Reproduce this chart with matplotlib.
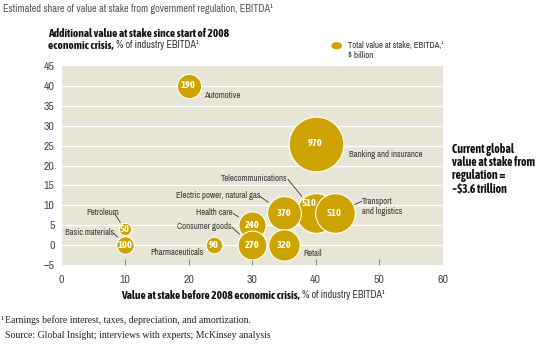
import matplotlib
matplotlib.use("Agg")
import matplotlib.pyplot as plt
import numpy as np

industries = ["Automotive", "Banking and insurance", "Telecommunications",
              "Transport\nand logistics", "Electric power, natural gas",
              "Health care", "Consumer goods", "Retail", "Pharmaceuticals",
              "Petroleum", "Basic materials"]
before_crisis = [20, 40, 40, 43, 35, 30, 30, 35, 24, 10, 10]
additional = [40, 25.5, 8, 8, 8, 5, 0, 0, 0, 4, 0]
total_value = [190, 970, 510, 510, 370, 240, 270, 320, 90, 50, 100]
x_ticks = [0, 10, 20, 30, 40, 50, 60]
y_ticks = [-5, 0, 5, 10, 15, 20, 25, 30, 35, 40, 45]

GOLD = "#CCA300"
BG = "#E7E5D5"
GREY = "#4a4a4a"
SANS = ["Archivo Narrow", "Liberation Sans", "DejaVu Sans"]
BOLD = ["Asap Condensed", "Barlow Condensed", "Liberation Sans", "DejaVu Sans"]
SERIF = ["Liberation Serif", "DejaVu Serif"]

plt.rcParams["font.family"] = SANS

W, H = 545, 344
fig = plt.figure(figsize=(W / 100, H / 100), dpi=100)
ax = fig.add_axes([61.5 / W, 1 - 265 / H, 381 / W, 199 / H])
ax.set_facecolor(BG)
ax.set_xlim(0, 60)
ax.set_ylim(-5, 45)
for s in ax.spines.values():
    s.set_visible(False)
ax.set_yticks(y_ticks)
ax.set_yticklabels([str(v).replace("-", "\u2212") for v in y_ticks])
ax.set_xticks(x_ticks)
ax.tick_params(axis="y", length=0, pad=5, labelsize=8.5, labelcolor=GREY)
ax.tick_params(axis="x", direction="in", length=4, width=0.8, color="#888888",
               pad=7, labelsize=8.5, labelcolor=GREY)
xt = ax.xaxis.get_major_ticks()
xt[0].tick1line.set_visible(False)
xt[-1].tick1line.set_visible(False)
for yv in y_ticks[1:-1]:
    ax.axhline(yv, color="white", lw=0.9, zorder=1)

K = 1.6  # marker area scale (points^2 per $ billion)
for i, (xv, yv, v) in enumerate(zip(before_crisis, additional, total_value)):
    ax.scatter([xv], [yv], s=K * v, color=GOLD, edgecolor="white", linewidth=0.8,
               zorder=3 + i, clip_on=False)

# value labels inside bubbles (offsets in points)
val_off = {2: (-4.5, 7)}
for i, (xv, yv, v) in enumerate(zip(before_crisis, additional, total_value)):
    dx, dy = val_off.get(i, (0, 0))
    ax.annotate(str(v), (xv, yv), xytext=(dx, dy), textcoords="offset points",
                ha="center", va="center", color="white", fontsize=7.5,
                fontweight="bold", family=BOLD, zorder=30)

# category labels: (dx, dy in pixels, ha, leader?)
lab = {
    0: (15.5, -9.2, "left", False),
    1: (33.5, -10.5, "left", False),
    2: (-27.5, 35.2, "right", True),
    3: (27.4, 7.2, "left", True),
    4: (-23.7, 18.2, "right", True),
    5: (-19, 13.1, "right", True),
    6: (-20, 19, "right", True),
    7: (19.3, -8, "left", False),
    8: (-10, -7, "right", False),
    9: (-22, 17, "center", True),
    10: (-11, 13, "right", True),
}
for i, name in enumerate(industries):
    dx, dy, ha, leader = lab[i]
    r_pt = np.sqrt(K * total_value[i]) / 2
    kw = {}
    if leader:
        relx = {"left": 0.0, "right": 1.0, "center": 0.85}[ha]
        kw["arrowprops"] = dict(arrowstyle="-", color="#333333", lw=0.6,
                                shrinkA=0, shrinkB=r_pt + 1.5,
                                relpos=(relx, 0.35 if ha != "left" else 0.75),
                                patchA=None)
    ax.annotate(name, (before_crisis[i], additional[i]),
                xytext=(dx * 0.72, dy * 0.72), textcoords="offset points",
                ha=ha, va="center", fontsize=6.3, color="#3a3a3a",
                multialignment="left", linespacing=1.15, zorder=40, **kw)

# Texts
fig.text(3 / W, 1 - 9 / H, "Estimated share of value at stake from government regulation, EBITDA\u00b9",
         fontsize=7.4, color="#555555", va="center", ha="left")
fig.text(48 / W, 1 - 33.5 / H, "Additional value at stake since start of 2008",
         fontsize=8.2, fontweight="bold", family=BOLD, va="center", ha="left", color="#111111")
t_b = fig.text(48 / W, 1 - 45 / H, "economic crisis,", fontsize=8.2, fontweight="bold",
               family=BOLD, va="center", ha="left", color="#111111")
fig.canvas.draw()
r = fig.canvas.get_renderer()
bb = t_b.get_window_extent(r)
fig.text((bb.x1 + 2) / W, 1 - 45 / H, "% of industry EBITDA\u00b9", fontsize=7.2,
         va="center", ha="left", color="#333333")

# legend
fig.add_artist(matplotlib.patches.Circle((336.7 / W, 1 - 45.7 / H), radius=4.6 / W,
                                         transform=fig.transFigure, color=GOLD))
fig.text(347.5 / W, 1 - 45.5 / H, "Total value at stake, EBITDA,\u00b9", fontsize=6.3,
         va="center", ha="left", color="#333333")
fig.text(347.5 / W, 1 - 55 / H, "$ billion", fontsize=6.3, va="center", ha="left",
         color="#333333")

# x axis title
tx1 = fig.text(0, 1 - 295 / H, "Value at stake before 2008 economic crisis,", fontsize=8.2,
               fontweight="bold", family=BOLD, va="center", ha="left", color="#111111")
tx2 = fig.text(0, 1 - 295 / H, "% of industry EBITDA\u00b9", fontsize=7.2,
               va="center", ha="left", color="#333333")
fig.canvas.draw()
w1 = tx1.get_window_extent(r).width
w2 = tx2.get_window_extent(r).width
total_w = w1 + 3 + w2
x0 = 253 - total_w / 2
tx1.set_x(x0 / W)
tx2.set_x((x0 + w1 + 3) / W)

# right annotation
fig.text(452.5 / W, 1 - 143.5 / H,
         "Current global\nvalue at stake from\nregulation =\n~$3.6 trillion",
         fontsize=8.5, fontweight="bold", family=BOLD, va="top", ha="left", color="#111111",
         linespacing=1.0)

# footnotes
fig.text(0.5 / W, 1 - 320.5 / H, "\u00b9", fontsize=6, va="center", ha="left",
         family=SERIF, color="#222222")
fig.text(5 / W, 1 - 320.5 / H, "Earnings before interest, taxes, depreciation, and amortization.",
         fontsize=7, va="center", ha="left", family=SERIF, color="#222222")
fig.text(5 / W, 1 - 335.5 / H, "Source: Global Insight; interviews with experts; McKinsey analysis",
         fontsize=7, va="center", ha="left", family=SERIF, color="#222222")

fig.savefig("out.png", dpi=100)
